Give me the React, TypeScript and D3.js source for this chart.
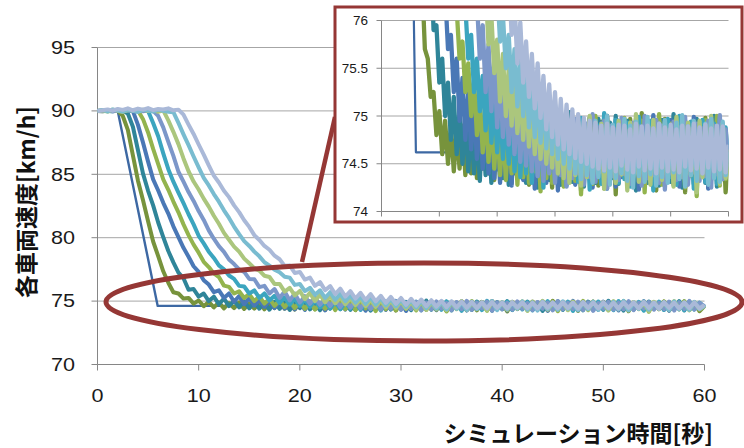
import React from 'react';
import * as d3 from 'd3';

// ---- data ----
const SAMPLE_STEP = 0.5; // seconds between samples of follower series
const xTicks = [0, 10, 20, 30, 40, 50, 60];
const mainYTicks = [70, 75, 80, 85, 90, 95];
const insetYTicks = [74, 74.5, 75, 75.5, 76];
const insetYLabels = ['74', '74.5', '75', '75.5', '76'];
const yTitle = '各車両速度[km/h]';
const xTitle = 'シミュレーション時間[秒]';

// lead vehicle (keyframes)
const leadTimes = [0, 2, 5.95, 60];
const leadSpeeds = [90, 90, 74.62, 74.62];

const car1 = [90,90,90,90,90.02,89.6,88.5,86.5,84.5,82.95,
 81.3,79.7,78.55,77.35,76.45,75.7,75.6,75.2,75.25,74.8,
 75.05,74.6,74.95,74.5,74.9,74.42,74.85,74.45,74.9,74.38,
 74.8,74.4,74.95,74.35,74.85,74.45,74.92,74.4,74.78,74.33,
 74.9,74.48,74.97,74.36,74.82,74.3,74.9,74.42,74.99,74.37,
 74.86,74.28,74.93,74.45,74.8,74.35,74.96,74.4,74.88,74.25,
 74.92,74.38,75.02,74.44,74.84,74.31,74.9,74.36,74.95,74.22,
 74.87,74.41,74.98,74.33,74.83,74.27,74.94,74.4,75.0,74.35,
 74.88,74.18,74.92,74.43,74.85,74.3,74.97,74.38,74.9,74.26,
 75.03,74.4,74.86,74.32,74.95,74.22,74.89,74.44,74.97,74.34,
 74.84,74.28,74.93,74.39,75.0,74.2,74.88,74.42,74.95,74.31,
 74.9,74.36,74.98,74.25,74.86,74.4,74.94,74.33,74.9,74.2,74.6];

const car2 = [90,90.03,90,89.98,90.02,90,89.8,88.75,86.9,85.05,
 83.7,82.55,81.2,80.05,78.95,78.05,77.25,76.8,75.9,75.95,
 75.35,75.6,75.0,75.35,74.75,75.2,74.6,75.05,74.5,75.0,
 74.42,74.95,74.4,74.88,74.32,74.95,74.38,74.9,74.3,74.86,
 74.44,74.97,74.35,74.82,74.28,74.93,74.4,75.01,74.36,74.87,
 74.3,74.95,74.42,74.84,74.25,74.9,74.38,74.98,74.33,74.86,
 74.4,74.94,74.28,74.89,74.36,75.04,74.31,74.85,74.43,74.96,
 74.26,74.9,74.38,74.82,74.3,74.97,74.41,74.88,74.24,74.93,
 74.35,75.0,74.29,74.86,74.4,74.95,74.32,74.9,74.22,74.84,
 74.38,74.99,74.3,74.91,74.44,74.85,74.27,74.96,74.36,74.89,
 74.31,75.02,74.4,74.87,74.25,74.94,74.35,74.88,74.29,74.97,
 74.42,74.86,74.3,74.93,74.37,75.0,74.26,74.9,74.34,74.85,74.5];

const car3 = [90,90,90.02,89.97,90.03,90,90.02,89.98,88.9,87.5,
 86.0,84.6,83.72,82.75,81.9,80.9,80.05,79.2,78.5,77.75,
 77.3,76.65,76.3,75.7,75.85,75.25,75.6,74.95,75.4,74.75,
 75.25,74.65,75.1,74.55,75.05,74.45,74.98,74.4,74.95,74.35,
 74.9,74.3,74.96,74.38,74.85,74.27,74.93,74.42,74.88,74.33,
 75.0,74.36,74.84,74.24,74.92,74.4,74.97,74.3,74.87,74.38,
 74.94,74.22,74.9,74.35,75.03,74.41,74.86,74.28,74.95,74.34,
 74.89,74.39,74.98,74.25,74.84,74.37,74.93,74.3,75.0,74.43,
 74.87,74.26,74.95,74.36,74.9,74.31,74.85,74.4,74.97,74.23,
 74.91,74.35,74.86,74.42,75.01,74.29,74.9,74.37,74.83,74.32,
 74.96,74.4,74.88,74.26,74.94,74.34,74.87,74.41,74.99,74.3,
 74.85,74.38,74.93,74.24,74.9,74.36,74.97,74.31,74.86,74.4,74.7];

const car4 = [90,89.98,90.02,90,90.03,89.97,90.02,90,90.03,89.35,
 88.3,87.0,85.8,84.6,83.78,82.85,82.0,81.05,80.2,79.45,
 78.82,78.1,77.68,77.18,76.9,76.22,76.12,75.6,75.78,75.25,
 75.55,75.0,75.38,74.8,75.2,74.62,75.08,74.52,75.02,74.45,
 74.97,74.38,74.92,74.33,74.88,74.4,74.95,74.28,74.86,74.36,
 74.98,74.3,74.9,74.42,74.85,74.21,74.94,74.35,75.02,74.3,
 74.87,74.39,74.93,74.26,74.89,74.37,74.97,74.32,74.84,74.18,
 74.92,74.4,74.88,74.29,75.0,74.36,74.86,74.24,74.95,74.41,
 74.9,74.3,74.84,74.38,74.98,74.27,74.91,74.35,74.87,74.4,
 74.95,74.2,74.89,74.33,74.93,74.39,75.02,74.28,74.86,74.36,
 74.92,74.31,74.97,74.42,74.85,74.25,74.9,74.37,74.94,74.16,
 74.88,74.4,74.96,74.3,74.87,74.35,75.0,74.27,74.91,74.34,74.6];

const car5 = [90,90.02,89.98,90.03,90,89.97,90.03,90.01,89.98,90.04,
 90,89.05,88.0,86.65,85.4,84.42,83.55,82.72,81.85,81.05,
 80.15,79.55,78.9,78.4,77.82,77.5,77.02,76.75,76.2,76.15,
 75.6,75.85,75.25,75.6,75.05,75.42,74.85,75.3,74.72,75.2,
 74.62,75.12,74.55,75.05,74.5,74.98,74.42,74.95,74.36,74.9,
 74.4,74.97,74.3,74.86,74.37,74.93,74.25,74.89,74.41,75.01,
 74.33,74.88,74.38,74.95,74.27,74.85,74.4,74.92,74.31,74.98,
 74.35,74.87,74.23,74.94,74.39,74.9,74.29,75.03,74.36,74.85,
 74.42,74.96,74.3,74.88,74.34,74.93,74.26,74.87,74.4,74.99,
 74.32,74.86,74.37,74.95,74.22,74.9,74.41,74.84,74.3,74.97,
 74.36,74.89,74.28,75.0,74.39,74.86,74.33,74.94,74.24,74.9,
 74.4,74.96,74.31,74.85,74.37,74.92,74.29,74.98,74.35,74.88,74.55];

const car6 = [90,89.98,90.03,90,90.02,89.97,90.04,90,90.02,89.98,
 90.03,90.01,89.6,88.7,87.55,86.45,85.2,84.42,83.6,82.9,
 82.1,81.4,80.58,79.92,79.33,78.88,78.28,77.92,77.5,77.3,
 76.75,76.72,76.1,76.2,75.6,75.95,75.25,75.75,75.05,75.6,
 74.88,75.4,74.78,75.3,74.7,75.22,74.6,75.15,74.52,75.08,
 74.48,75.05,74.42,74.98,74.37,74.93,74.32,74.9,74.4,75.0,
 74.3,74.87,74.38,74.94,74.26,74.89,74.35,74.97,74.4,74.85,
 74.28,74.92,74.36,75.02,74.31,74.88,74.42,74.95,74.24,74.9,
 74.37,74.86,74.33,74.98,74.39,74.84,74.29,74.93,74.41,74.89,
 74.27,75.0,74.35,74.87,74.38,74.96,74.3,74.9,74.23,74.85,
 74.4,74.94,74.33,74.88,74.36,74.99,74.28,74.86,74.41,74.92,
 74.32,74.87,74.37,74.95,74.25,74.9,74.39,75.01,74.34,74.86,74.6];

const car7 = [90,90.05,89.95,90.1,90,89.92,90.08,90.02,89.95,90.1,
 89.98,90.06,89.93,90.04,89.25,88.35,87.38,86.25,85.24,84.43,
 83.8,83.08,82.45,81.73,81.1,80.38,79.84,79.3,78.9,78.35,
 77.98,77.6,77.4,77.0,76.9,76.35,76.35,75.75,76.05,75.45,
 75.8,75.15,75.65,75.0,75.5,74.9,75.42,74.82,75.3,74.75,
 75.25,74.68,75.18,74.6,75.12,74.55,75.08,74.5,75.03,74.46,
 74.98,74.4,74.93,74.35,74.96,74.3,74.88,74.38,74.94,74.27,
 74.9,74.36,75.0,74.32,74.86,74.4,74.92,74.24,74.97,74.35,
 74.87,74.3,74.95,74.39,74.89,74.22,74.93,74.36,75.02,74.31,
 74.85,74.41,74.91,74.28,74.96,74.37,74.88,74.33,74.94,74.4,
 74.86,74.26,74.99,74.35,74.9,74.3,74.93,74.38,74.87,74.2,
 74.95,74.36,74.89,74.32,75.0,74.4,74.86,74.29,74.92,74.35,74.65];

const car8 = [90,90.08,89.96,90.12,90.02,89.94,90.1,90,89.92,90.08,
 90.03,89.95,90.1,90,89.93,89.9,89.05,88.15,87.3,86.4,
 85.55,84.72,84.12,83.44,82.84,82.16,81.56,80.88,80.28,79.73,
 79.35,78.9,78.53,78.06,77.8,77.48,77.27,76.92,76.85,76.28,
 76.35,75.78,76.05,75.5,75.85,75.25,75.7,75.1,75.58,75.0,
 75.45,74.88,75.35,74.78,75.3,74.72,75.25,74.66,75.18,74.6,
 75.12,74.55,75.08,74.5,75.03,74.45,74.98,74.4,74.93,74.34,
 74.96,74.38,74.89,74.3,74.95,74.36,74.87,74.42,75.0,74.28,
 74.91,74.35,74.86,74.4,74.97,74.32,74.9,74.25,74.94,74.37,
 74.88,74.31,74.99,74.39,74.85,74.27,74.92,74.36,74.96,74.3,
 74.87,74.41,74.93,74.34,75.01,74.26,74.89,74.38,74.95,74.32,
 74.86,74.4,74.92,74.28,74.97,74.35,74.88,74.31,74.94,74.38,74.62];

const car9 = [90,90.05,90.12,90.02,90.15,90.08,90.2,90.05,90.18,90.1,
 90.22,90.06,90.15,90.12,90.2,90.05,90.1,89.7,88.92,88.18,
 87.35,86.55,85.7,84.9,84.35,83.7,83.2,82.55,82.02,81.38,
 80.85,80.2,79.82,79.35,79.05,78.58,78.3,77.78,77.8,77.22,
 77.3,76.7,76.85,76.2,76.5,75.85,76.18,75.55,75.98,75.35,
 75.78,75.2,75.65,75.08,75.55,74.98,75.42,74.86,75.33,74.78,
 75.25,74.7,75.18,74.65,75.12,74.6,75.07,74.56,75.02,74.52,
 74.98,74.5,74.95,74.47,74.93,74.45,74.9,74.43,74.92,74.46,
 74.88,74.42,74.91,74.48,74.9,74.44,74.86,74.41,74.92,74.47,
 74.89,74.43,74.9,74.45,74.87,74.4,74.92,74.46,74.88,74.42,
 74.91,74.44,74.86,74.41,74.9,74.47,74.89,74.43,74.92,74.45,
 74.88,74.4,74.91,74.46,74.87,74.42,74.9,74.44,74.89,74.41,74.7];

const followers = [car1, car2, car3, car4, car5, car6, car7, car8, car9];
const leadColor = '#3D68A3';
const followerColors = ['#77933C', '#2F8599', '#4A78B6', '#93B44E', '#3BA5BF', '#7C97C9', '#ABC67D', '#79BCD0', '#AAB9D8'];

type Pt = [number, number];

export default function App() {
  const x = d3.scaleLinear().domain([0, 60]).range([97.5, 704.5]);
  const y = d3.scaleLinear().domain([70, 95]).range([364.5, 47.5]);
  const ix = d3.scaleLinear().domain([0, 60]).range([381.5, 728.5]);
  const iy = d3.scaleLinear().domain([74, 76]).range([211.5, 20.5]);

  const leadPts: Pt[] = leadTimes.map((t, i) => [t, leadSpeeds[i]]);
  const followerPts: Pt[][] = followers.map(arr => arr.map((v, i) => [i * SAMPLE_STEP, v] as Pt));
  const series = [
    { pts: leadPts, color: leadColor, w: 2.4, wi: 2.2 },
    ...followerPts.map((pts, i) => ({ pts, color: followerColors[i], w: 4, wi: 4.3 })),
  ];

  const mainLine = d3.line<Pt>().x(d => x(d[0])).y(d => y(d[1]));
  const insetLine = d3.line<Pt>().x(d => ix(d[0])).y(d => iy(d[1]));

  const grid = '#A6A6A6';
  const axisC = '#868686';
  const red = '#953735';
  const numFont = "'Liberation Sans', Arial, sans-serif";
  const cjkFont = "'Noto Sans CJK JP', 'Noto Sans', sans-serif";

  return (
    <svg width={744} height={448} style={{ position: 'absolute', left: 0, top: 0 }} fontFamily={numFont}>
      <rect x={0} y={0} width={744} height={448} fill="#fff" />
      <defs>
        <clipPath id="insetClip">
          <rect x={ix(0)} y={iy(76)} width={ix(60) - ix(0)} height={iy(74) - iy(76)} />
        </clipPath>
      </defs>

      {/* main gridlines */}
      {mainYTicks.filter(v => v > 70).map(v => (
        <line key={'g' + v} x1={x(0)} x2={x(60)} y1={y(v)} y2={y(v)} stroke={grid} strokeWidth={1} />
      ))}
      {/* main axes */}
      <line x1={x(0)} x2={x(0)} y1={y(95)} y2={y(70)} stroke={axisC} />
      <line x1={x(0)} x2={x(60)} y1={y(70)} y2={y(70)} stroke={axisC} />
      {mainYTicks.map(v => (
        <line key={'yt' + v} x1={x(0) - 6} x2={x(0)} y1={y(v)} y2={y(v)} stroke={axisC} />
      ))}
      {xTicks.map(t => (
        <line key={'xt' + t} x1={x(t)} x2={x(t)} y1={y(70)} y2={y(70) + 6} stroke={axisC} />
      ))}
      {mainYTicks.map(v => (
        <text key={'yl' + v} transform={`translate(75,${y(v)}) scale(1.2,1)`} textAnchor="end"
          dominantBaseline="central" fontSize={18} fill="#1a1a1a">{v}</text>
      ))}
      {xTicks.map(t => (
        <text key={'xl' + t} transform={`translate(${x(t)},396) scale(1.2,1)`} textAnchor="middle"
          dominantBaseline="central" fontSize={18} fill="#1a1a1a">{t}</text>
      ))}
      <text transform="translate(25,202) rotate(-90)" textAnchor="middle" dominantBaseline="central"
        fontSize={23} fontWeight="bold" fontFamily={cjkFont} fill="#111">{yTitle}</text>
      <text x={713} y={432} textAnchor="end" dominantBaseline="central"
        fontSize={23} fontWeight="bold" fontFamily={cjkFont} fill="#111">{xTitle}</text>

      {/* main series */}
      <g fill="none" strokeLinejoin="round">
        {series.map((s, i) => (
          <path key={'m' + i} d={mainLine(s.pts) || ''} stroke={s.color} strokeWidth={s.w} />
        ))}
      </g>

      {/* highlight ellipse and pointer */}
      <ellipse cx={424} cy={302} rx={318} ry={39} fill="none" stroke={red} strokeWidth={5} />
      <line x1={302} y1={262} x2={335} y2={117} stroke={red} strokeWidth={4.5} />

      {/* inset */}
      <rect x={335} y={7} width={407} height={215} fill="#fff" stroke={red} strokeWidth={3} />
      {insetYTicks.filter(v => v > 74).map(v => (
        <line key={'ig' + v} x1={ix(0)} x2={ix(60)} y1={iy(v)} y2={iy(v)} stroke={grid} />
      ))}
      <line x1={ix(0)} x2={ix(0)} y1={iy(76)} y2={iy(74)} stroke={axisC} />
      <line x1={ix(0)} x2={ix(60)} y1={iy(74)} y2={iy(74)} stroke={axisC} />
      {insetYTicks.map(v => (
        <line key={'iyt' + v} x1={ix(0) - 5} x2={ix(0)} y1={iy(v)} y2={iy(v)} stroke={axisC} />
      ))}
      {xTicks.map(t => (
        <line key={'ixt' + t} x1={ix(t)} x2={ix(t)} y1={iy(74)} y2={iy(74) + 5} stroke={axisC} />
      ))}
      {insetYTicks.map((v, i) => (
        <text key={'iyl' + v} x={368} y={iy(v)} textAnchor="end" dominantBaseline="central"
          fontSize={13.5} fill="#1a1a1a">{insetYLabels[i]}</text>
      ))}
      <g fill="none" strokeLinejoin="round" clipPath="url(#insetClip)">
        {series.map((s, i) => (
          <path key={'i' + i} d={insetLine(s.pts) || ''} stroke={s.color} strokeWidth={s.wi} />
        ))}
      </g>
    </svg>
  );
}
